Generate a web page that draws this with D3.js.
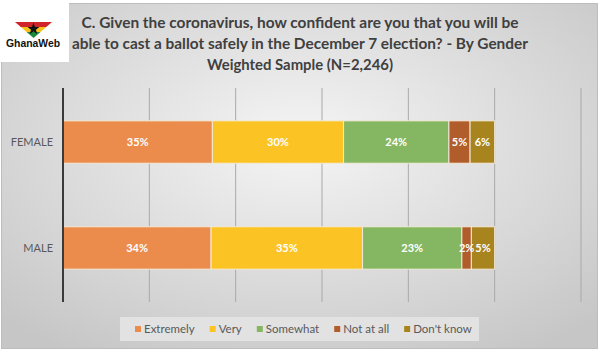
<!DOCTYPE html>
<html>
<head>
<meta charset="utf-8">
<script src="https://cdn.jsdelivr.net/npm/d3@7"></script>
<style>
  body { margin: 0; background: #fff; }
  svg { display: block; font-family: Lato, "Open Sans", sans-serif; }
</style>
</head>
<body>
<svg id="chart" width="600" height="353"></svg>
<script>
"use strict";

var titleLines = [
  "C. Given the coronavirus, how confident are you that you will be",
  "able to cast a ballot safely in the December 7 election? - By Gender",
  "Weighted Sample (N=2,246)"
];
var groups = ["FEMALE", "MALE"];
var answers = ["Extremely", "Very", "Somewhat", "Not at all", "Don't know"];
var colors = ["#eb8b4c", "#fbc424", "#85b762", "#b15c2b", "#a8841f"];
var femaleShares = [34.6, 30.4, 24.4, 4.9, 5.7];
var maleShares = [34.3, 35.1, 23.0, 2.2, 5.4];
var xTicks = [0, 20, 40, 60, 80, 100, 120];

var svg = d3.select("#chart");
var defs = svg.append("defs");

var grad = defs.append("radialGradient")
    .attr("id", "bg").attr("cx", "50%").attr("cy", "40%").attr("r", "72%");
grad.append("stop").attr("offset", "0%").attr("stop-color", "#f5f5f5");
grad.append("stop").attr("offset", "100%").attr("stop-color", "#c6c6c6");

// frame
svg.append("rect")
    .attr("x", 1.5).attr("y", 3.5).attr("width", 596).attr("height", 345)
    .attr("fill", "url(#bg)")
    .attr("stroke", "#bdbdbd").attr("stroke-width", 1);

// logo
var logo = svg.append("g");
logo.append("rect").attr("x", 0).attr("y", 0).attr("width", 69).attr("height", 62).attr("fill", "#fff");
defs.append("clipPath").attr("id", "chev")
  .append("path").attr("d", "M15,22 L52,22 L33.5,38 Z");
var chev = logo.append("g").attr("clip-path", "url(#chev)");
chev.append("rect").attr("x", 15).attr("y", 22).attr("width", 37).attr("height", 5).attr("fill", "#d0232b");
chev.append("rect").attr("x", 15).attr("y", 27).attr("width", 37).attr("height", 5).attr("fill", "#f7c11b");
chev.append("rect").attr("x", 15).attr("y", 32).attr("width", 37).attr("height", 6).attr("fill", "#1b8a3c");
var star = d3.range(10).map(function (i) {
  var a = -Math.PI / 2 + i * Math.PI / 5, r = i % 2 ? 2.6 : 6.2;
  return [33.5 + r * Math.cos(a), 29 + r * Math.sin(a)];
});
logo.append("path").attr("d", "M" + star.join("L") + "Z").attr("fill", "#111");
logo.append("text").attr("x", 33).attr("y", 47).attr("text-anchor", "middle")
    .attr("font-family", "Liberation Sans, Arial, sans-serif")
    .attr("font-weight", "bold").attr("font-size", 10.5)
    .attr("textLength", 54).attr("lengthAdjust", "spacingAndGlyphs")
    .attr("fill", "#111").text("GhanaWeb");

// title
var titleWidths = [437, 456, 186];
svg.append("g").selectAll("text")
  .data(titleLines)
  .enter().append("text")
    .attr("x", 300)
    .attr("y", function (d, i) { return 28 + i * 21; })
    .attr("text-anchor", "middle")
    .attr("font-size", 15).attr("font-weight", "bold")
    .attr("fill", "#404040")
    .attr("textLength", function (d, i) { return titleWidths[i]; })
    .attr("lengthAdjust", "spacingAndGlyphs")
    .text(function (d) { return d; });

// scales
var x = d3.scaleLinear().domain([0, 120]).range([63, 581]);
var y = d3.scaleBand().domain(groups).range([88, 302]).paddingInner(0.6).paddingOuter(0.31);

// gridlines
svg.append("g").selectAll("line")
  .data(xTicks.slice(1))
  .enter().append("line")
    .attr("x1", function (d) { return x(d); }).attr("x2", function (d) { return x(d); })
    .attr("y1", 88).attr("y2", 302)
    .attr("stroke", "#a9a9a9").attr("stroke-width", 1);

// stacked data
var rows = groups.map(function (g, gi) {
  var vals = gi === 0 ? femaleShares : maleShares;
  var acc = 0;
  return vals.map(function (v, i) {
    var seg = { group: g, key: answers[i], v: v, x0: acc, x1: acc + v, color: colors[i] };
    acc += v;
    return seg;
  });
});

var bars = svg.append("g").selectAll("g.row")
  .data(rows)
  .enter().append("g").attr("class", "row");

bars.selectAll("rect")
  .data(function (d) { return d; })
  .enter().append("rect")
    .attr("x", function (d) { return x(d.x0); })
    .attr("width", function (d) { return x(d.x1) - x(d.x0); })
    .attr("y", function (d) { return y(d.group); })
    .attr("height", y.bandwidth())
    .attr("fill", function (d) { return d.color; })
    .attr("stroke", "#f3ead8").attr("stroke-width", 1);

bars.selectAll("text")
  .data(function (d) { return d; })
  .enter().append("text")
    .attr("x", function (d) { return (x(d.x0) + x(d.x1)) / 2; })
    .attr("y", function (d) { return y(d.group) + y.bandwidth() / 2 + 4; })
    .attr("text-anchor", "middle")
    .attr("font-size", 11).attr("font-weight", "bold")
    .attr("fill", "#fff")
    .text(function (d) { return Math.round(d.v) + "%"; });

// y axis
svg.append("line")
    .attr("x1", 63).attr("x2", 63).attr("y1", 88).attr("y2", 302)
    .attr("stroke", "#3a3a3a").attr("stroke-width", 2);

svg.append("g").selectAll("text")
  .data(groups)
  .enter().append("text")
    .attr("x", 53)
    .attr("y", function (d) { return y(d) + y.bandwidth() / 2 + 4; })
    .attr("text-anchor", "end")
    .attr("font-size", 11)
    .attr("fill", "#595959")
    .text(function (d) { return d; });

// legend
var legend = svg.append("g");
legend.append("rect")
    .attr("x", 120).attr("y", 317).attr("width", 359).attr("height", 24)
    .attr("fill", "#e2e2e2");

var lx = 135;
answers.forEach(function (a, i) {
  legend.append("rect")
      .attr("x", lx).attr("y", 326).attr("width", 6).attr("height", 6)
      .attr("fill", colors[i]);
  var t = legend.append("text")
      .attr("x", lx + 9).attr("y", 333)
      .attr("font-size", 11.5).attr("fill", "#595959")
      .text(a);
  lx += 9 + t.node().getComputedTextLength() + 15;
});
</script>
</body>
</html>
